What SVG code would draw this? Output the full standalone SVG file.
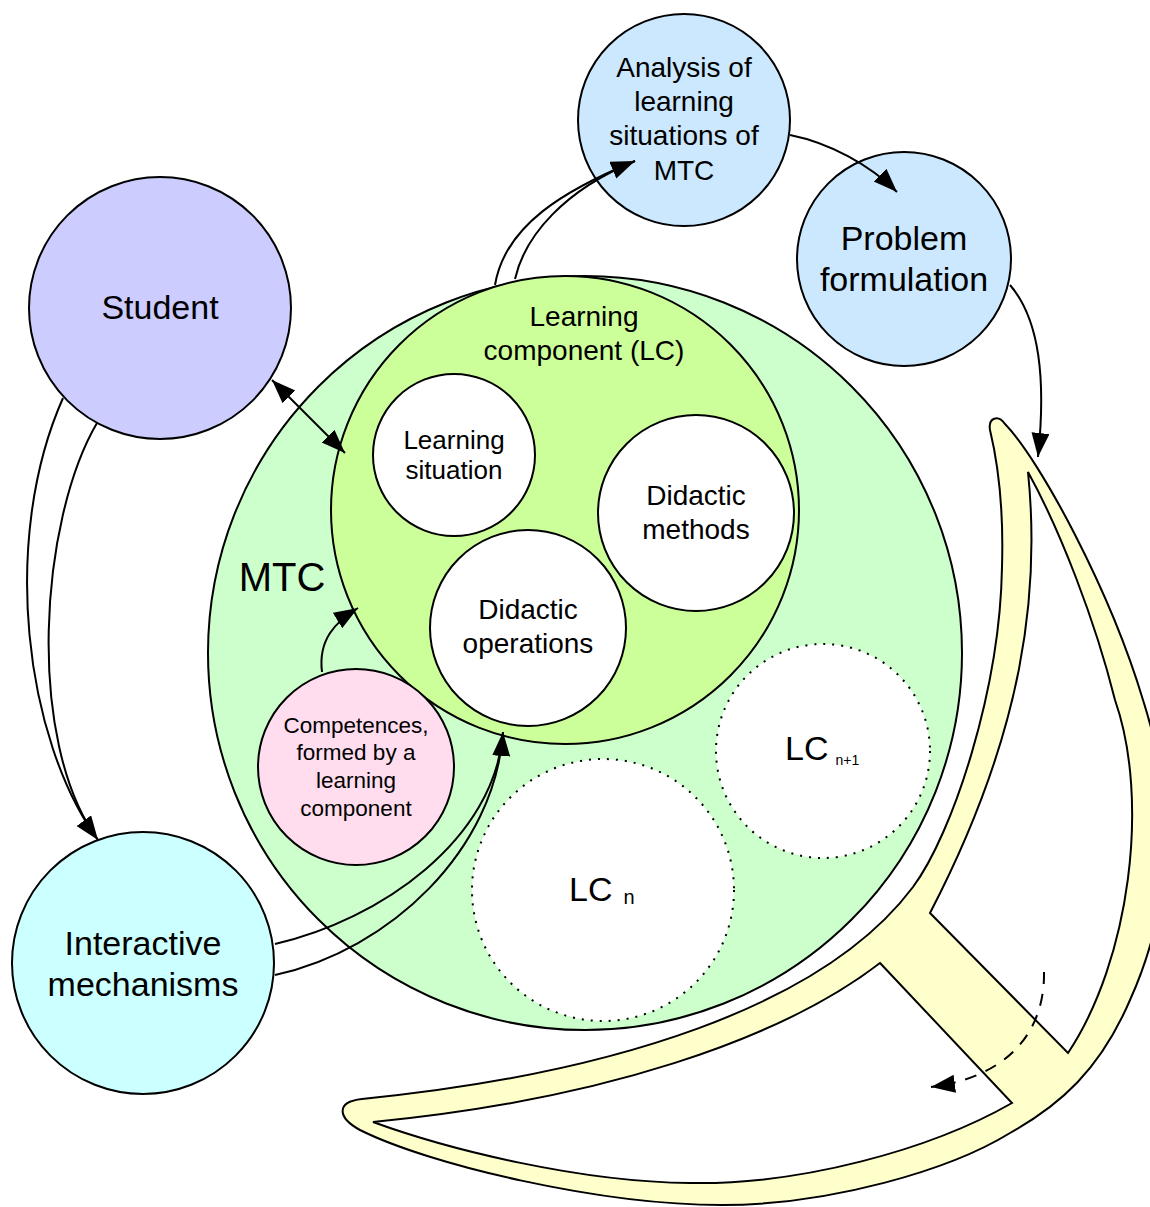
<svg xmlns="http://www.w3.org/2000/svg" width="1150" height="1207" viewBox="0 0 1150 1207">
<style>
text{font-family:"Liberation Sans",Arial,sans-serif;fill:#000;text-anchor:middle}
text.l{text-anchor:start}
.n{stroke:#000;stroke-width:2}
.dot{fill:#fff;stroke:#000;stroke-width:2;stroke-dasharray:2 7}
.c{fill:none;stroke:#000;stroke-width:2}
</style>
<defs>
<marker id="ah" markerWidth="26" markerHeight="20" refX="24" refY="9" orient="auto" markerUnits="userSpaceOnUse"><path d="M0,0 L24,9 L0,18 z" fill="#000"/></marker>
<marker id="ahs" markerWidth="26" markerHeight="20" refX="24" refY="9" orient="auto-start-reverse" markerUnits="userSpaceOnUse"><path d="M0,0 L24,9 L0,18 z" fill="#000"/></marker>
</defs>
<rect width="1150" height="1207" fill="#fff"/>

<g id="cycle-shape">
<path class="n" fill="#ffffcc" fill-rule="evenodd" d="M990,430 C988,418 998,414 1005,424 C1040,460 1110,590 1143,700 C1175,800 1175,900 1130,1000 C1100,1070 1060,1105 1010,1133 C950,1170 830,1205 722,1205 C600,1205 430,1165 360,1130 C338,1118 335,1102 362,1099 C612,1074 823,1007 913,887 C953,833 1000,690 1002,567 C1004,500 996,455 990,430 Z M1028,472 C1040,590 1025,730 930,913 L1068,1053 C1130,960 1150,800 1115,700 C1095,620 1060,530 1028,472 Z M880,963 L1012,1103 C930,1150 800,1185 690,1183 C580,1182 450,1150 373,1122 C600,1100 780,1040 880,963 Z"/>
</g>

<g id="mtc">
<circle class="n" cx="585" cy="653" r="377" fill="#ccffcc"/>
<text x="282" y="591" font-size="40">MTC</text>
</g>
<g id="lc">
<circle class="n" cx="565" cy="510" r="234" fill="#ccff99"/>
<text x="584" y="326" font-size="28">Learning</text>
<text x="584" y="360" font-size="28">component (LC)</text>
</g>
<g id="learning-situation">
<circle class="n" cx="454" cy="455" r="81" fill="#fff"/>
<text x="454" y="449" font-size="26">Learning</text>
<text x="454" y="479" font-size="26">situation</text>
</g>
<g id="didactic-methods">
<circle class="n" cx="696" cy="513" r="98" fill="#fff"/>
<text x="696" y="505" font-size="28">Didactic</text>
<text x="696" y="539" font-size="28">methods</text>
</g>
<g id="didactic-operations">
<circle class="n" cx="528" cy="628" r="98" fill="#fff"/>
<text x="528" y="619" font-size="28">Didactic</text>
<text x="528" y="653" font-size="28">operations</text>
</g>
<g id="competences">
<circle class="n" cx="356" cy="767" r="98" fill="#ffddee"/>
<text x="356" y="733" font-size="22.5">Competences,</text>
<text x="356" y="760" font-size="22.5">formed by a</text>
<text x="356" y="788" font-size="22.5">learning</text>
<text x="356" y="816" font-size="22.5">component</text>
</g>
<g id="lc-n">
<circle class="dot" cx="603" cy="890" r="131"/>
<text class="l" x="569" y="901" font-size="34">LC<tspan font-size="20" dx="11" dy="3">n</tspan></text>
</g>
<g id="lc-n1">
<circle class="dot" cx="823" cy="751" r="107"/>
<text class="l" x="785" y="760" font-size="34">LC<tspan font-size="14" dx="7" dy="5">n+1</tspan></text>
</g>
<g id="student">
<circle class="n" cx="160" cy="308" r="131" fill="#ccccff"/>
<text x="160" y="319" font-size="34">Student</text>
</g>
<g id="interactive">
<circle class="n" cx="143" cy="963" r="131" fill="#ccffff"/>
<text x="143" y="955" font-size="34">Interactive</text>
<text x="143" y="996" font-size="34">mechanisms</text>
</g>
<g id="analysis">
<circle class="n" cx="684" cy="120" r="106" fill="#cce8ff"/>
<text x="684" y="77" font-size="28">Analysis of</text>
<text x="684" y="111" font-size="28">learning</text>
<text x="684" y="145" font-size="28">situations of</text>
<text x="684" y="180" font-size="28">MTC</text>
</g>
<g id="problem">
<circle class="n" cx="904" cy="259" r="107" fill="#cce8ff"/>
<text x="904" y="250" font-size="34">Problem</text>
<text x="904" y="291" font-size="34">formulation</text>
</g>

<g id="connectors">
<path class="c" d="M63,398 C0,540 25,740 98,840" marker-end="url(#ah)"/>
<path class="c" d="M97,423 C40,520 25,740 98,840"/>
<path class="c" d="M272,380 L345,453" marker-start="url(#ahs)" marker-end="url(#ah)"/>
<path class="c" d="M275,944 C380,920 495,840 503,732" marker-end="url(#ah)"/>
<path class="c" d="M275,975 C390,950 495,850 503,732"/>
<path class="c" d="M322,672 C318,640 335,622 358,608" marker-end="url(#ah)"/>
<path class="c" d="M495,285 C505,225 565,190 635,161" marker-end="url(#ah)"/>
<path class="c" d="M515,279 C525,235 565,190 635,161"/>
<path class="c" d="M790,135 C830,143 870,165 897,192" marker-end="url(#ah)"/>
<path class="c" d="M1010,285 C1040,320 1046,380 1038,457" marker-end="url(#ah)"/>
<path class="c" d="M1044,972 C1045,1020 1020,1075 931,1087" stroke-dasharray="12 10" marker-end="url(#ah)"/>
</g>
</svg>
